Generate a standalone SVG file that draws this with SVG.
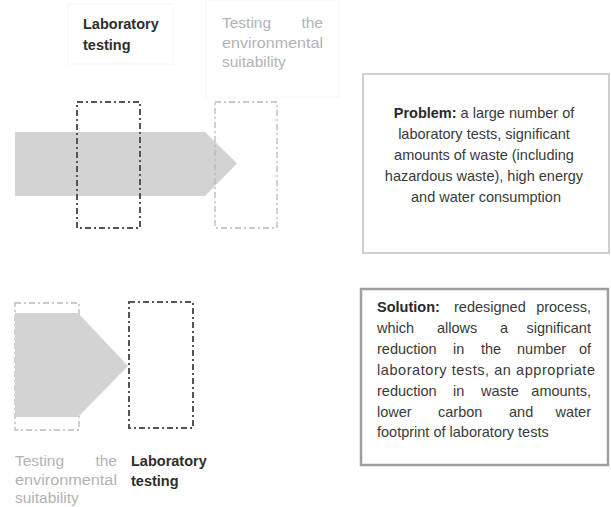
<svg xmlns="http://www.w3.org/2000/svg" width="611" height="507" viewBox="0 0 611 507">
<style>
  .arrow { fill: #d3d3d3; stroke: none; }
  .dark-box { fill: none; stroke: #555555; stroke-width: 2; stroke-dasharray: 6 3 2 3; }
  .light-box { fill: none; stroke: #b8b8b8; stroke-width: 1.3; stroke-dasharray: 6 3 2 3; }
  .faint { fill: none; stroke: #f6f6f6; stroke-width: 1; }
  .lab { font-family: "Liberation Sans", Arial, sans-serif; font-weight: bold; font-size: 14.5px; fill: #2e2e2e; }
  .env { font-family: "Liberation Sans", Arial, sans-serif; font-size: 15.5px; fill: #b3b3b3; }
  .txt { font-family: "Liberation Sans", Arial, sans-serif; font-size: 14.5px; fill: #3a3a3a; }
  .txt .b { font-weight: bold; fill: #2a2a2a; }
  .problem { fill: #ffffff; stroke: #cfcfcf; stroke-width: 2; }
  .solution { fill: #ffffff; stroke: #9e9e9e; stroke-width: 2.5; }
</style>

<!-- Top row -->
<g id="top-lab-label">
  <rect class="faint" x="68" y="4" width="105" height="60"/>
  <text class="lab" x="83" y="29">Laboratory</text>
  <text class="lab" x="83" y="50">testing</text>
</g>
<g id="top-env-label">
  <rect class="faint" x="206" y="0" width="133" height="97"/>
  <text class="env" y="28"><tspan x="222">Testing</tspan><tspan x="323" text-anchor="end">the</tspan></text>
  <text class="env" x="222" y="48" textLength="101" lengthAdjust="spacingAndGlyphs">environmental</text>
  <text class="env" x="222" y="67">suitability</text>
</g>
<g id="top-arrow">
  <polygon class="arrow" points="15,132 205,132 237,163.5 205,196 15,196"/>
</g>
<g id="top-lab-box">
  <rect class="dark-box" x="77" y="102" width="63" height="126"/>
</g>
<g id="top-env-box">
  <rect class="light-box" x="215" y="102" width="62" height="126"/>
</g>

<!-- Problem -->
<g id="problem">
  <rect class="problem" x="363" y="74" width="246" height="179"/>
  <text class="txt" text-anchor="middle">
    <tspan x="486" y="118"><tspan class="b">Problem:</tspan> a large number of</tspan>
    <tspan x="486" y="139">laboratory tests, significant</tspan>
    <tspan x="486" y="160">amounts of waste (including</tspan>
    <tspan x="486" y="181">hazardous waste), high energy</tspan>
    <tspan x="486" y="202">and water consumption</tspan>
  </text>
</g>

<!-- Bottom row -->
<g id="bottom-env-box">
  <rect class="light-box" x="15" y="303" width="64" height="127"/>
</g>
<g id="bottom-arrow">
  <polygon class="arrow" points="15,313 78,313 128,366 78,417 15,417"/>
</g>
<g id="bottom-lab-box">
  <rect class="dark-box" x="129" y="302" width="64" height="126"/>
</g>
<g id="bottom-env-label">
  <text class="env" y="466"><tspan x="15">Testing</tspan><tspan x="117" text-anchor="end">the</tspan></text>
  <text class="env" x="15" y="485" textLength="102" lengthAdjust="spacingAndGlyphs">environmental</text>
  <text class="env" x="15" y="503">suitability</text>
</g>
<g id="bottom-lab-label">
  <text class="lab" x="131" y="466">Laboratory</text>
  <text class="lab" x="131" y="486">testing</text>
</g>

<!-- Solution -->
<g id="solution">
  <rect class="solution" x="361" y="289" width="247" height="176"/>
  <text class="txt">
    <tspan x="377" y="312" class="b">Solution:</tspan>
    <tspan x="454" y="312">redesigned</tspan>
    <tspan x="595" y="312" text-anchor="end">process,</tspan>
    <tspan x="377" y="333">which</tspan>
    <tspan x="437" y="333">allows</tspan>
    <tspan x="500" y="333">a</tspan>
    <tspan x="595" y="333" text-anchor="end">significant</tspan>
    <tspan x="377" y="354">reduction</tspan>
    <tspan x="453" y="354">in</tspan>
    <tspan x="481" y="354">the</tspan>
    <tspan x="517" y="354">number</tspan>
    <tspan x="595" y="354" text-anchor="end">of</tspan>
    <tspan x="377" y="375" textLength="218" lengthAdjust="spacing">laboratory tests, an appropriate</tspan>
    <tspan x="377" y="396">reduction</tspan>
    <tspan x="453" y="396">in</tspan>
    <tspan x="481" y="396">waste</tspan>
    <tspan x="595" y="396" text-anchor="end">amounts,</tspan>
    <tspan x="377" y="416.5">lower</tspan>
    <tspan x="438" y="416.5">carbon</tspan>
    <tspan x="509" y="416.5">and</tspan>
    <tspan x="595" y="416.5" text-anchor="end">water</tspan>
    <tspan x="377" y="437">footprint of laboratory tests</tspan>
  </text>
</g>
</svg>
